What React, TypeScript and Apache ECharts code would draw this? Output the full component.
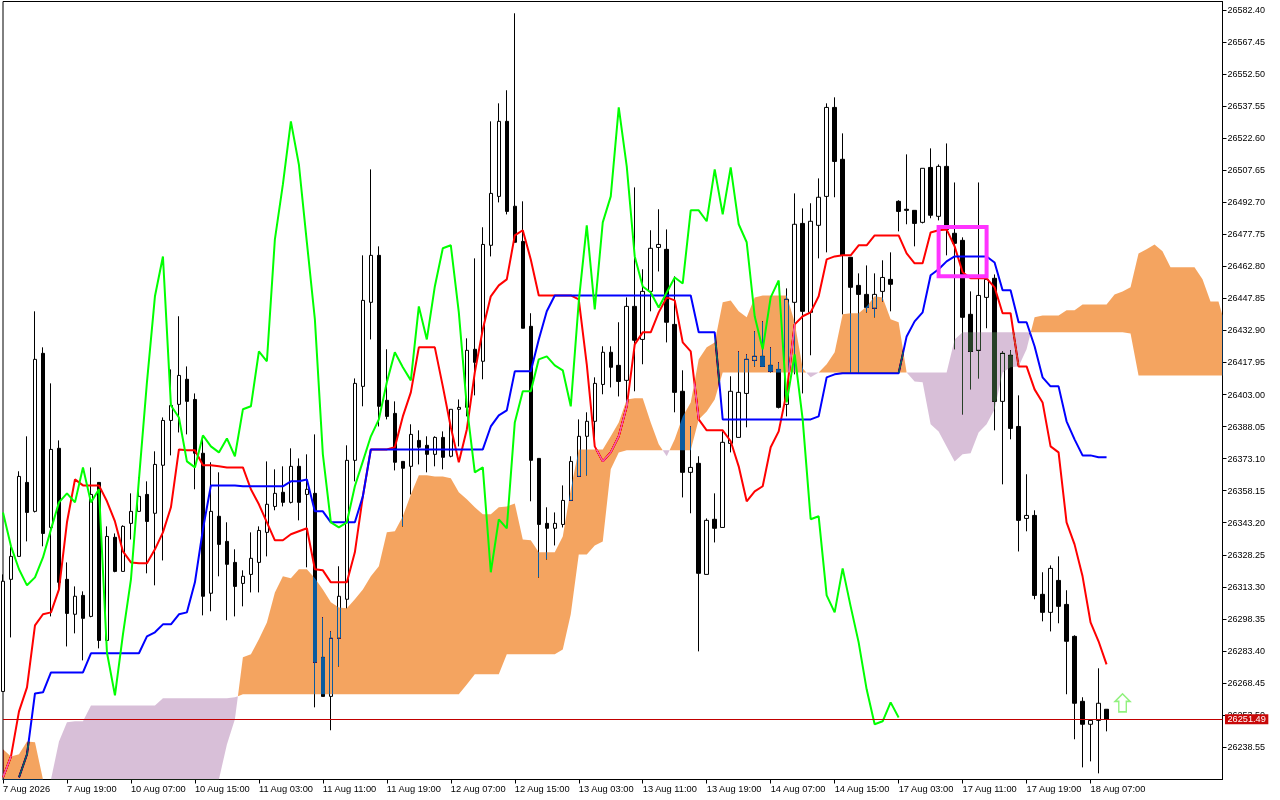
import React, { useEffect, useRef } from "react";
import * as echarts from "echarts";

const timeLabels = ["7 Aug 2026","7 Aug 19:00","10 Aug 07:00","10 Aug 15:00","11 Aug 03:00","11 Aug 11:00","11 Aug 19:00","12 Aug 07:00","12 Aug 15:00","13 Aug 03:00","13 Aug 11:00","13 Aug 19:00","14 Aug 07:00","14 Aug 15:00","17 Aug 03:00","17 Aug 11:00","17 Aug 19:00","18 Aug 07:00"];
const priceTicks = [26582.40,26567.45,26552.50,26537.55,26522.60,26507.65,26492.70,26477.75,26462.80,26447.85,26432.90,26417.95,26403.00,26388.05,26373.10,26358.15,26343.20,26328.25,26313.30,26298.35,26283.40,26268.45,26253.50,26238.55];
const lastPrice = 26251.49;

const opens = [26264.5,26316.8,26327.5,26362.0,26348.5,26422.2,26341.0,26377.9,26316.8,26300.5,26309.3,26299.5,26362.0,26288.3,26336.4,26320.5,26342.9,26348.5,26356.4,26347.6,26370.0,26390.9,26398.4,26410.1,26400.7,26375.6,26310.3,26346.2,26334.5,26324.7,26314.9,26319.1,26324.7,26338.7,26350.8,26357.4,26352.7,26369.5,26356.4,26356.9,26280.4,26262.2,26289.3,26307.5,26372.3,26406.8,26446.0,26467.9,26400.3,26394.2,26371.8,26369.5,26381.6,26379.3,26375.1,26383.0,26374.2,26396.1,26397.0,26424.1,26418.5,26472.6,26495.4,26530.4,26490.8,26474.4,26434.8,26373.2,26342.9,26340.6,26342.4,26353.6,26364.8,26383.5,26390.5,26407.7,26422.7,26416.6,26409.6,26444.1,26428.7,26451.1,26471.6,26470.7,26435.7,26404.5,26366.7,26370.9,26319.1,26344.8,26341.0,26380.2,26383.0,26403.5,26418.9,26420.8,26416.6,26414.7,26398.4,26446.0,26482.8,26441.3,26481.9,26495.4,26536.9,26512.7,26467.0,26453.9,26449.7,26443.2,26451.1,26456.7,26493.1,26489.4,26488.9,26483.3,26508.9,26486.1,26509.4,26478.2,26474.9,26440.4,26423.6,26448.3,26457.2,26399.8,26421.3,26388.1,26345.2,26346.6,26309.8,26301.4,26316.3,26305.1,26290.2,26259.9,26249.2,26251.0,26256.2];
const closes = [26315.9,26327.5,26364.8,26348.0,26419.4,26338.2,26377.4,26315.4,26300.9,26308.9,26298.6,26356.4,26288.3,26336.8,26320.5,26341.5,26348.5,26355.5,26343.8,26370.4,26390.9,26397.9,26411.9,26399.8,26375.6,26308.9,26348.5,26333.1,26323.8,26313.5,26318.2,26326.6,26339.6,26351.8,26356.9,26352.7,26369.5,26352.7,26358.8,26278.1,26262.2,26289.3,26308.9,26372.3,26408.2,26446.9,26467.9,26397.5,26392.8,26371.4,26368.6,26384.4,26378.4,26375.1,26383.0,26373.7,26396.1,26397.0,26423.6,26418.0,26473.0,26496.8,26530.4,26488.4,26474.0,26433.9,26372.3,26342.4,26340.6,26342.9,26353.6,26371.8,26383.5,26390.5,26408.2,26422.7,26415.7,26409.1,26444.1,26428.3,26451.1,26471.2,26473.0,26436.7,26404.0,26366.7,26369.0,26319.6,26344.3,26340.6,26380.7,26404.5,26404.0,26419.4,26420.8,26416.1,26413.8,26397.0,26447.4,26482.4,26441.8,26483.8,26495.0,26536.9,26511.7,26467.9,26453.0,26449.7,26443.6,26449.7,26457.6,26454.4,26488.4,26488.9,26482.8,26508.5,26486.6,26509.4,26480.0,26473.5,26439.0,26423.1,26449.2,26456.7,26399.8,26422.2,26387.2,26344.3,26346.6,26309.3,26301.4,26321.9,26304.2,26287.9,26259.0,26249.2,26251.0,26259.0,26251.49];
const lows = [26264.5,26289.7,26327.5,26334.5,26348.0,26332.2,26299.5,26311.2,26285.5,26291.6,26279.0,26299.1,26284.6,26288.3,26320.1,26320.5,26335.4,26348.5,26319.6,26314.0,26325.6,26374.6,26385.3,26384.4,26358.8,26300.0,26301.9,26318.2,26297.7,26299.5,26304.2,26310.7,26310.7,26327.5,26349.0,26350.8,26352.2,26344.3,26322.4,26257.1,26262.2,26246.4,26276.2,26303.3,26362.5,26397.5,26428.7,26388.1,26391.4,26367.6,26341.5,26356.4,26370.4,26366.7,26369.5,26368.1,26373.7,26378.8,26392.8,26402.6,26410.1,26467.4,26492.6,26487.0,26474.0,26433.9,26353.2,26317.7,26326.1,26332.6,26341.0,26353.6,26364.8,26365.3,26379.8,26403.1,26406.3,26402.1,26399.3,26404.5,26417.1,26441.8,26460.4,26427.3,26394.7,26355.0,26347.6,26283.2,26319.1,26334.0,26341.0,26376.0,26383.0,26387.7,26416.1,26416.1,26413.3,26396.5,26392.8,26412.4,26403.5,26421.3,26466.5,26469.3,26495.0,26440.4,26413.3,26413.3,26441.3,26439.0,26446.4,26441.8,26479.1,26482.4,26472.1,26482.8,26485.2,26484.2,26467.9,26424.1,26393.7,26405.4,26410.5,26433.9,26386.3,26361.1,26382.1,26329.8,26339.2,26307.5,26297.2,26292.5,26296.3,26263.2,26242.2,26229.1,26231.9,26226.3,26245.9];
const highs = [26319.1,26332.2,26367.2,26383.5,26441.8,26425.0,26408.2,26381.6,26324.7,26313.5,26311.2,26369.0,26362.0,26341.5,26338.2,26342.0,26356.9,26364.4,26362.5,26376.5,26392.3,26414.7,26439.5,26416.1,26403.5,26382.1,26371.4,26366.7,26343.4,26330.8,26321.0,26338.7,26341.5,26371.8,26368.1,26369.5,26377.9,26373.2,26375.1,26384.4,26299.1,26292.5,26322.9,26379.3,26410.5,26467.9,26508.0,26472.1,26424.1,26399.8,26371.8,26389.1,26386.3,26383.5,26383.5,26385.8,26396.1,26400.7,26429.2,26466.5,26481.0,26530.4,26538.8,26544.9,26580.8,26493.1,26440.9,26373.2,26350.4,26348.0,26360.6,26374.2,26391.4,26394.7,26411.0,26425.5,26425.5,26436.7,26448.3,26499.6,26461.4,26479.6,26489.4,26480.0,26458.1,26414.3,26388.1,26374.2,26345.2,26356.9,26385.8,26411.5,26423.1,26421.7,26432.5,26437.1,26425.0,26418.0,26452.5,26496.8,26489.8,26492.2,26503.8,26538.8,26541.6,26524.8,26467.0,26459.5,26463.2,26459.5,26465.6,26469.3,26493.6,26515.0,26488.9,26508.5,26517.8,26510.3,26520.1,26501.9,26476.3,26451.1,26501.9,26456.7,26459.0,26423.1,26423.6,26402.6,26365.8,26349.0,26320.1,26323.3,26327.5,26311.7,26290.7,26261.8,26251.0,26275.3,26256.2];

const tenkan = [26224.4,26234.2,26255.2,26266.4,26295.3,26300.5,26301.4,26312.1,26343.4,26363.4,26360.6,26360.6,26360.6,26353.2,26343.8,26329.8,26324.7,26324.3,26324.3,26330.8,26338.7,26350.4,26377.4,26377.0,26377.0,26370.0,26370.0,26369.5,26369.0,26369.0,26369.0,26358.8,26351.8,26343.4,26335.0,26335.0,26337.8,26339.2,26340.6,26321.5,26321.0,26315.4,26315.4,26315.4,26329.4,26355.5,26377.4,26377.4,26377.4,26378.4,26392.8,26404.0,26425.0,26425.0,26425.0,26406.8,26387.7,26371.4,26386.7,26413.3,26433.4,26448.8,26453.9,26456.7,26477.2,26479.6,26466.0,26449.2,26449.2,26449.2,26449.2,26449.2,26447.4,26417.1,26378.8,26371.8,26376.0,26383.5,26397.5,26426.4,26432.0,26432.0,26441.3,26448.3,26446.9,26427.3,26423.1,26391.4,26386.3,26386.3,26386.3,26381.2,26369.5,26353.2,26357.8,26360.2,26378.4,26385.8,26404.0,26435.7,26439.5,26441.3,26448.8,26466.0,26467.4,26467.9,26467.9,26472.6,26472.6,26477.2,26477.2,26477.2,26477.2,26468.8,26464.2,26464.2,26478.6,26479.6,26480.0,26472.1,26460.0,26457.2,26457.2,26457.2,26453.0,26440.9,26440.9,26416.1,26416.1,26405.4,26399.3,26378.8,26376.0,26343.4,26333.1,26318.2,26296.7,26287.9,26277.1];
const kijun = [null,null,26224.4,26235.2,26263.6,26264.1,26273.4,26273.4,26273.4,26273.4,26273.4,26282.3,26282.3,26282.3,26282.3,26282.3,26282.3,26282.3,26290.2,26292.1,26295.8,26295.8,26300.5,26301.4,26315.4,26340.1,26360.6,26360.6,26360.6,26360.6,26360.2,26360.2,26360.2,26360.2,26360.2,26360.2,26362.5,26362.5,26363.4,26348.5,26348.5,26343.4,26343.4,26343.4,26343.4,26355.5,26377.4,26377.4,26377.4,26377.4,26377.4,26377.4,26377.4,26377.4,26377.4,26377.4,26377.4,26377.4,26377.4,26377.4,26377.4,26388.1,26393.3,26395.6,26413.8,26413.8,26413.8,26428.7,26441.8,26449.2,26449.2,26449.2,26449.2,26449.2,26449.2,26449.2,26449.2,26449.2,26449.2,26449.2,26449.2,26449.2,26449.2,26449.2,26449.2,26449.2,26449.2,26432.0,26432.0,26432.0,26391.4,26391.4,26391.4,26391.4,26391.4,26391.4,26391.4,26391.4,26391.4,26391.4,26391.4,26391.4,26392.8,26411.0,26412.4,26412.9,26412.9,26412.9,26412.9,26412.9,26412.9,26412.9,26412.9,26430.1,26437.1,26441.3,26458.6,26461.4,26465.1,26467.4,26467.4,26467.4,26467.4,26467.4,26464.6,26451.6,26451.6,26436.7,26436.7,26425.5,26411.0,26406.8,26406.8,26390.5,26382.1,26374.6,26374.6,26373.7,26373.7];
const chikou = [26348.0,26332.2,26321.5,26314.0,26317.7,26327.0,26340.1,26352.7,26356.9,26352.7,26369.0,26352.7,26358.8,26282.7,26262.7,26291.1,26316.8,26363.4,26408.7,26448.8,26467.4,26397.9,26392.3,26371.8,26369.0,26383.9,26378.8,26376.0,26382.5,26374.2,26396.1,26397.5,26423.1,26418.5,26475.4,26501.0,26530.4,26510.3,26474.0,26438.1,26375.1,26343.4,26341.0,26343.4,26360.2,26371.8,26383.5,26391.4,26408.7,26422.7,26415.7,26409.6,26444.1,26428.7,26453.4,26471.2,26472.6,26441.3,26397.5,26366.7,26369.0,26320.1,26344.8,26340.6,26390.0,26404.5,26404.5,26419.4,26420.8,26416.6,26414.3,26397.5,26446.4,26481.9,26442.7,26483.3,26495.4,26536.9,26509.4,26467.4,26453.4,26450.6,26443.6,26450.6,26457.6,26454.8,26488.9,26488.9,26483.8,26508.0,26487.0,26508.9,26482.4,26474.0,26439.5,26424.1,26448.3,26456.2,26399.3,26421.7,26391.4,26344.8,26346.2,26309.3,26301.4,26321.9,26304.2,26287.4,26265.5,26249.2,26250.6,26259.4,26252.4];
const spanA = [26237.5,26234.2,26235.2,26241.2,26240.8,26216.5,26211.8,26211.8,26211.8,26211.8,26211.8,26211.8,26211.8,26211.8,26211.8,26211.8,26211.8,26211.8,26211.8,26211.8,26211.8,26211.8,26211.8,26211.8,26211.8,26211.8,26211.8,26221.2,26239.8,26251.5,26280.4,26281.8,26288.8,26296.7,26310.7,26318.2,26317.3,26321.5,26321.5,26317.3,26312.1,26306.1,26303.7,26303.3,26307.5,26312.1,26318.2,26322.9,26338.7,26339.2,26346.2,26356.4,26365.3,26365.3,26364.8,26364.8,26363.9,26357.4,26354.1,26350.4,26347.1,26347.1,26350.4,26350.8,26352.2,26335.4,26335.0,26329.4,26329.4,26329.4,26336.8,26358.8,26377.4,26377.4,26377.4,26377.4,26383.5,26390.0,26400.7,26401.2,26401.2,26390.0,26379.8,26374.2,26382.1,26392.8,26399.3,26419.4,26425.0,26427.3,26446.0,26446.9,26441.8,26439.0,26448.3,26449.2,26449.2,26449.2,26449.2,26436.7,26415.2,26411.0,26413.3,26417.1,26422.7,26440.4,26440.9,26440.9,26444.1,26448.8,26448.3,26438.1,26436.7,26413.3,26409.1,26408.7,26389.1,26385.8,26378.8,26371.8,26375.1,26375.6,26385.3,26389.1,26396.1,26413.3,26415.7,26416.1,26424.1,26439.0,26439.9,26439.9,26439.9,26442.3,26442.3,26445.0,26445.0,26445.0,26445.0,26449.7,26451.1,26453.0,26468.8,26470.7,26473.0,26469.8,26462.3,26462.3,26462.3,26462.3,26456.7,26446.4,26446.4,26439.9];
const spanB = [26214.2,26214.2,26214.2,26214.2,26214.2,26214.2,26218.8,26241.2,26250.1,26250.6,26250.6,26258.0,26258.0,26258.0,26258.0,26258.0,26258.0,26258.0,26258.0,26258.0,26261.3,26261.3,26261.3,26261.3,26261.3,26261.3,26261.3,26261.3,26261.3,26261.8,26263.2,26263.2,26263.2,26263.2,26263.2,26263.2,26263.2,26263.2,26263.2,26263.2,26263.2,26263.2,26263.2,26263.2,26263.2,26263.2,26263.2,26263.2,26263.2,26263.2,26263.2,26263.2,26263.2,26263.2,26263.2,26263.2,26263.2,26263.2,26267.8,26272.5,26272.5,26272.5,26272.5,26281.8,26281.8,26281.8,26281.8,26281.8,26281.8,26281.8,26284.1,26300.5,26328.4,26328.4,26332.6,26334.5,26368.1,26376.0,26377.0,26377.0,26377.0,26377.0,26377.0,26377.0,26377.0,26377.0,26377.0,26391.4,26395.1,26400.7,26413.3,26413.3,26413.3,26413.3,26413.3,26413.3,26413.3,26413.3,26413.3,26413.3,26413.3,26413.3,26413.3,26413.3,26413.3,26413.3,26413.3,26413.3,26413.3,26413.3,26413.3,26413.3,26413.3,26413.3,26413.3,26413.3,26413.3,26413.3,26413.3,26428.7,26432.0,26432.0,26432.0,26432.0,26432.0,26432.0,26432.0,26432.0,26432.0,26432.0,26432.0,26432.0,26432.0,26432.0,26432.0,26432.0,26432.0,26432.0,26432.0,26432.0,26432.0,26431.5,26411.9,26411.9,26411.9,26411.9,26411.9,26411.9,26411.9,26411.9,26411.9,26411.9,26411.9,26411.9];
const highlightBox = [117, 26481.1, 123, 26458.2];
const arrowMark = [140, 26259.2];

// The MetaTrader cloud is XOR-painted; "difference" with these fills gives sandy brown / thistle on white.
const BULL_FILL = "#0b5b9f";
const BEAR_FILL = "#274027";

type Run = { fill: string; points: number[][] };

function buildCloudRuns(): Run[] {
  const runs: Run[] = [];
  let upper: number[][] = [];
  let lower: number[][] = [];
  let sign = 0;
  const flush = () => {
    if (upper.length > 1) runs.push({ fill: sign > 0 ? BULL_FILL : BEAR_FILL, points: upper.concat(lower.slice().reverse()) });
    upper = [];
    lower = [];
  };
  for (let i = 0; i < spanA.length; i++) {
    const d = spanA[i] - spanB[i];
    const s = d > 0 ? 1 : d < 0 ? -1 : 0;
    if (i > 0) {
      const pd = spanA[i - 1] - spanB[i - 1];
      if (pd * d < 0 || (s === 0 && pd !== 0)) {
        const t = pd / (pd - d);
        const cross = [i - 1 + t, spanA[i - 1] + t * (spanA[i] - spanA[i - 1])];
        upper.push(cross);
        lower.push(cross);
        flush();
        upper.push(cross);
        lower.push(cross);
      }
    }
    if (s !== 0) {
      sign = s;
      upper.push([i, spanA[i]]);
      lower.push([i, spanB[i]]);
    }
  }
  flush();
  return runs;
}

const cloudRuns = buildCloudRuns();
const FONT = "'Liberation Sans', Arial, sans-serif";

export default function App() {
  const ref = useRef<HTMLDivElement>(null);
  useEffect(() => {
    const chart = echarts.init(ref.current!, undefined, { renderer: "svg" });
    chart.setOption({
      animation: false,
      backgroundColor: "#ffffff",
      grid: { left: 2.5, top: 1.5, width: 1220, height: 778, show: true, borderColor: "#000", borderWidth: 1, backgroundColor: "transparent" },
      xAxis: {
        type: "value",
        min: 0,
        max: 152.5,
        splitLine: { show: false },
        axisLine: { show: true, lineStyle: { color: "#000", width: 1 }, onZero: false },
        axisTick: { show: true, length: 4, lineStyle: { color: "#000" }, customValues: timeLabels.map((_, i) => i * 8) },
        axisLabel: {
          show: true,
          customValues: timeLabels.map((_, i) => i * 8),
          formatter: (v: number) => timeLabels[Math.round(v / 8)],
          align: "left",
          color: "#000",
          fontFamily: FONT,
          fontSize: 9.3,
          margin: 5,
          hideOverlap: false,
        },
      },
      yAxis: {
        type: "value",
        position: "right",
        min: 26223.44,
        max: 26586.3,
        splitLine: { show: false },
        axisLine: { show: true, onZero: false, lineStyle: { color: "#000", width: 1 } },
        axisTick: { show: true, length: 4, lineStyle: { color: "#000" }, customValues: priceTicks },
        axisLabel: {
          show: true,
          customValues: priceTicks,
          formatter: (v: number) => v.toFixed(2),
          color: "#000",
          fontFamily: FONT,
          fontSize: 9,
          margin: 5,
          hideOverlap: false,
        },
      },
      series: [
        {
          type: "candlestick",
          z: 1,
          silent: true,
          barWidth: 4,
          data: opens.map((o, i) => [i, o, closes[i], lows[i], highs[i]]),
          itemStyle: { color: "#fff", color0: "#000", borderColor: "#000", borderColor0: "#000", borderWidth: 1 },
        },
        {
          type: "line",
          z: 2,
          silent: true,
          showSymbol: false,
          data: tenkan.map((v, i) => [i, v]),
          lineStyle: { color: "#ff0000", width: 2 },
        },
        {
          type: "line",
          z: 2,
          silent: true,
          showSymbol: false,
          data: kijun.map((v, i) => [i, v]),
          lineStyle: { color: "#0000ff", width: 2 },
        },
        {
          type: "custom",
          z: 3,
          silent: true,
          coordinateSystem: "cartesian2d",
          data: cloudRuns.map((_, i) => [i, spanA[i]]),
          renderItem: (params: any, api: any) => {
            const run = cloudRuns[params.dataIndex];
            const cs = params.coordSys;
            const pts = run.points.map((p) => {
              const c = api.coord(p);
              return [Math.min(c[0], cs.x + cs.width), Math.max(cs.y, Math.min(c[1], cs.y + cs.height))];
            });
            return { type: "polygon", shape: { points: pts }, style: { fill: run.fill, stroke: "none" } };
          },
        },
        {
          type: "line",
          z: 4,
          silent: true,
          showSymbol: false,
          data: chikou.map((v, i) => [i, v]),
          lineStyle: { color: "#00ff00", width: 2 },
          markLine: {
            silent: true,
            symbol: "none",
            animation: false,
            data: [{ yAxis: lastPrice }],
            lineStyle: { color: "#c00000", width: 1, type: "solid" },
            label: {
              show: true,
              position: "end",
              distance: 2.5,
              formatter: lastPrice.toFixed(2),
              color: "#fff",
              backgroundColor: "#c80808",
              fontFamily: FONT,
              fontSize: 9.2,
              lineHeight: 10,
              padding: [0, 2.5, 0, 2.5],
            },
          },
        },
        {
          type: "scatter",
          z: 5,
          silent: true,
          data: [arrowMark],
          symbol: "path://M8 0 L16 8 L12 8 L12 19 L4 19 L4 8 L0 8 Z",
          symbolSize: [15, 18],
          itemStyle: { color: "#ffffff", borderColor: "#74ee5c", borderWidth: 1.5 },
        },
        {
          type: "custom",
          z: 6,
          silent: true,
          coordinateSystem: "cartesian2d",
          data: [highlightBox],
          renderItem: (_params: any, api: any) => {
            const a = api.coord([api.value(0), api.value(1)]);
            const b = api.coord([api.value(2), api.value(3)]);
            return {
              type: "rect",
              shape: { x: a[0], y: a[1], width: b[0] - a[0], height: b[1] - a[1] },
              style: { fill: "none", stroke: "#ff33ff", lineWidth: 4 },
            };
          },
        },
      ],
    });
    return () => chart.dispose();
  }, []);
  return (
    <>
      <style>{`
        body { margin: 0; }
        path[fill="${BULL_FILL}" i], path[fill="${BEAR_FILL}" i],
        path[fill="rgb(11,91,159)"], path[fill="rgb(39,64,39)"] { mix-blend-mode: difference; }
      `}</style>
      <div ref={ref} style={{ position: "absolute", left: 0, top: 0, width: 1280, height: 800 }} />
    </>
  );
}
